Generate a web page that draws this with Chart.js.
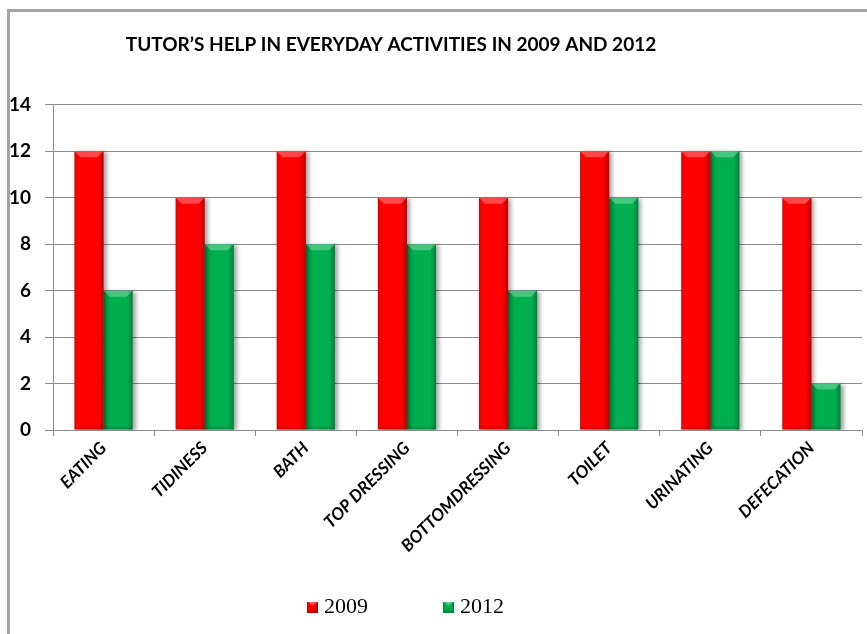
<!DOCTYPE html>
<html>
<head>
<meta charset="utf-8">
<script src="https://cdn.jsdelivr.net/npm/chart.js@4/dist/chart.umd.min.js"></script>
<style>
  html, body { margin: 0; padding: 0; background: #fff; overflow: hidden; }
  #wrap { position: relative; width: 867px; height: 634px; }
  #frame { position: absolute; left: 7px; top: 9px; width: 900px; height: 700px;
           border: 3px solid #a3a3a3; pointer-events: none; box-sizing: border-box; }
  canvas { position: absolute; left: 0; top: 0; }
</style>
</head>
<body>
<div id="wrap">
  <canvas id="c" width="867" height="634"></canvas>
  <div id="frame"></div>
</div>
<script>
// ---- data ----
const categories = ['EATING', 'TIDINESS', 'BATH', 'TOP DRESSING', 'BOTTOMDRESSING', 'TOILET', 'URINATING', 'DEFECATION'];
const values2009 = [12, 10, 12, 10, 10, 12, 12, 10];
const values2012 = [6, 8, 8, 8, 6, 10, 12, 2];
const seriesNames = ['2009', '2012'];
const yTicks = [0, 2, 4, 6, 8, 10, 12, 14];
const titleText = "TUTOR\u2019S HELP IN EVERYDAY ACTIVITIES IN 2009 AND 2012";

// ---- styles ----
const RED = '#ff0000';
const GREEN = '#00b050';

function makeSwatch(color) {
  const c = document.createElement('canvas');
  c.width = 11; c.height = 11;
  const g = c.getContext('2d');
  g.fillStyle = color; g.fillRect(0, 0, 11, 11);
  const lg = g.createLinearGradient(0, 0, 11, 0);
  lg.addColorStop(0, 'rgba(0,0,0,0.25)');
  lg.addColorStop(0.25, 'rgba(0,0,0,0)');
  lg.addColorStop(0.75, 'rgba(0,0,0,0)');
  lg.addColorStop(1, 'rgba(0,0,0,0.35)');
  g.fillStyle = lg; g.fillRect(0, 0, 11, 11);
  g.fillStyle = 'rgba(255,255,255,0.35)';
  g.beginPath(); g.moveTo(0, 0); g.lineTo(11, 0); g.lineTo(5.5, 4); g.closePath(); g.fill();
  g.fillStyle = 'rgba(0,0,0,0.2)';
  g.beginPath(); g.moveTo(0, 11); g.lineTo(11, 11); g.lineTo(5.5, 7); g.closePath(); g.fill();
  return c;
}
const swatches = [makeSwatch(RED), makeSwatch(GREEN)];

// shadow under bars
const shadowPlugin = {
  id: 'barShadow',
  beforeDatasetDraw(chart) {
    const ctx = chart.ctx;
    ctx.save();
    ctx.shadowColor = 'rgba(0,0,0,0.35)';
    ctx.shadowOffsetX = 3;
    ctx.shadowOffsetY = 1;
    ctx.shadowBlur = 4;
  },
  afterDatasetDraw(chart) { chart.ctx.restore(); }
};

// bevel overlay on each bar element
const bevelPlugin = {
  id: 'bevel',
  afterDatasetsDraw(chart) {
    const ctx = chart.ctx;
    chart.data.datasets.forEach((ds, di) => {
      const meta = chart.getDatasetMeta(di);
      meta.data.forEach(el => {
        const p = el.getProps(['x', 'y', 'base', 'width'], true);
        const l = p.x - p.width / 2, r = p.x + p.width / 2, t = p.y, b = p.base;
        const w = r - l, h = b - t;
        if (h <= 0) return;
        ctx.save();
        const lg = ctx.createLinearGradient(l, 0, r, 0);
        lg.addColorStop(0, 'rgba(0,0,0,0.22)');
        lg.addColorStop(0.07, 'rgba(0,0,0,0)');
        lg.addColorStop(0.8, 'rgba(0,0,0,0)');
        lg.addColorStop(1, 'rgba(0,0,0,0.28)');
        ctx.fillStyle = lg;
        ctx.fillRect(l, t, w, h);
        const bv = Math.min(6, h / 2);
        ctx.fillStyle = 'rgba(255,255,255,0.28)';
        ctx.beginPath();
        ctx.moveTo(l, t); ctx.lineTo(r, t); ctx.lineTo(r - bv, t + bv); ctx.lineTo(l + bv, t + bv);
        ctx.closePath(); ctx.fill();
        ctx.fillStyle = 'rgba(0,0,0,0.12)';
        ctx.beginPath();
        ctx.moveTo(l, b); ctx.lineTo(r, b); ctx.lineTo(r - 3, b - 3); ctx.lineTo(l + 3, b - 3);
        ctx.closePath(); ctx.fill();
        ctx.restore();
      });
    });
  }
};

// nudge title and legend horizontally like the original layout,
// and let the rotated category labels extend below the axis box
const shiftPlugin = {
  id: 'shift',
  afterLayout(chart) {
    const t = chart.titleBlock;
    if (t) { t.left -= 40; t.right -= 40; }
    const lg = chart.legend;
    if (lg) { lg.left -= 23; lg.right -= 23; }
    const xs = chart.scales.x;
    if (xs) { xs.bottom = xs.top + 150; xs.height = 150; }
  }
};

new Chart(document.getElementById('c'), {
  type: 'bar',
  data: {
    labels: categories,
    datasets: [
      { label: seriesNames[0], data: values2009, backgroundColor: RED, borderWidth: 0 },
      { label: seriesNames[1], data: values2012, backgroundColor: GREEN, borderWidth: 0 }
    ]
  },
  options: {
    responsive: false,
    animation: false,
    events: [],
    layout: { padding: { left: 0, right: 5, top: 0, bottom: 6 } },
    datasets: { bar: { barPercentage: 1.0, categoryPercentage: 0.575 } },
    plugins: {
      title: {
        display: true,
        text: titleText,
        color: '#000',
        font: { family: 'Lato', weight: 'bold', size: 19 },
        padding: { top: 33, bottom: 49 }
      },
      legend: {
        position: 'bottom',
        labels: {
          usePointStyle: true,
          boxWidth: 1,
          boxHeight: 11,
          padding: 80,
          color: '#000',
          font: { family: 'Liberation Serif', size: 22 },
          generateLabels(chart) {
            const items = Chart.defaults.plugins.legend.labels.generateLabels(chart);
            items.forEach((it, i) => { it.pointStyle = swatches[i]; });
            return items;
          }
        }
      },
      tooltip: { enabled: false }
    },
    scales: {
      x: {
        grid: { display: true, drawOnChartArea: false, offset: true, color: '#8c8c8c', tickLength: 6 },
        border: { display: true, color: '#8c8c8c', width: 1 },
        ticks: {
          autoSkip: false, maxRotation: 45, minRotation: 45, padding: 2,
          color: '#000',
          font: { family: 'Lato', weight: 'bold', style: 'italic', size: 17 }
        },
        afterFit(scale) { scale.height = 86; }
      },
      y: {
        min: 0, max: 14,
        afterBuildTicks(scale) { scale.ticks = yTicks.map(v => ({ value: v })); },
        grid: { color: '#8c8c8c', tickLength: 8 },
        border: { display: true, color: '#8c8c8c', width: 1 },
        ticks: {
          padding: 14, color: '#000',
          font: { family: 'Lato', weight: 'bold', size: 19 }
        },
        afterFit(scale) { scale.width = 53; }
      }
    }
  },
  plugins: [shadowPlugin, bevelPlugin, shiftPlugin]
});
</script>
</body>
</html>
